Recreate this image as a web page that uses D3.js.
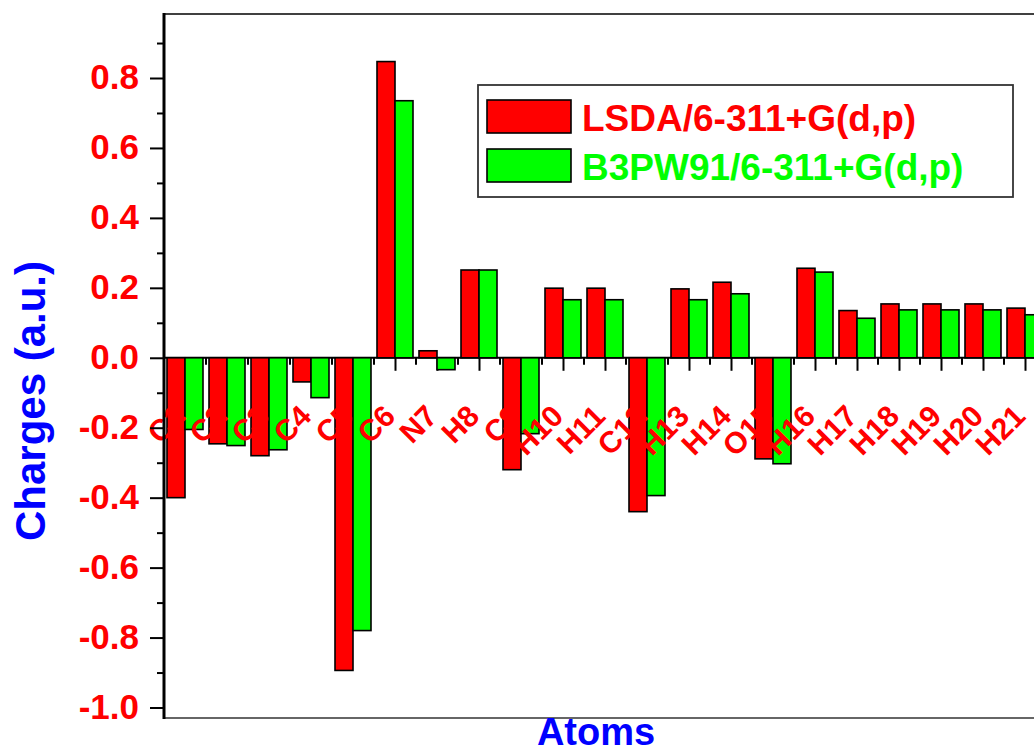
<!DOCTYPE html>
<html>
<head>
<meta charset="utf-8">
<script src="https://cdn.jsdelivr.net/npm/d3@7"></script>
<style>
  html, body { margin: 0; padding: 0; background: #fff; }
  svg { display: block; font-family: "Liberation Sans", Arial, sans-serif; }
</style>
</head>
<body>
<svg id="chart" width="1034" height="751"></svg>
<script>
// Mulliken atomic charges for each atom, two levels of theory
const atoms = ["C1","C2","C3","C4","C5","C6","N7","H8","C9","H10","H11","C12","H13","H14","O15","H16","H17","H18","H19","H20","H21"];
const lsda   = [-0.400,-0.246,-0.280,-0.069,-0.894, 0.847, 0.020, 0.251,-0.320, 0.199, 0.199,-0.440, 0.197, 0.216,-0.289, 0.256, 0.135, 0.154, 0.154, 0.154, 0.142];
const b3pw91 = [-0.205,-0.251,-0.263,-0.114,-0.780, 0.735,-0.034, 0.251,-0.217, 0.166, 0.166,-0.394, 0.166, 0.183,-0.303, 0.245, 0.113, 0.137, 0.137, 0.137, 0.123];
const seriesNames = ["LSDA/6-311+G(d,p)", "B3PW91/6-311+G(d,p)"];
const seriesColors = ["#ff0000", "#00ff00"];
const yMajorTicks = [-1.0,-0.8,-0.6,-0.4,-0.2,0.0,0.2,0.4,0.6,0.8];
const yMinorTicks = [-0.9,-0.7,-0.5,-0.3,-0.1,0.1,0.3,0.5,0.7,0.9];

const svg = d3.select("#chart");
const plot = { left: 164, top: 14, bottom: 718, right: 1028 };
const step = 42;

const x = d3.scalePoint()
  .domain(atoms)
  .range([plot.left, plot.left + step * atoms.length])
  .padding(0.5);
const barW = x.step() * 3 / 7;
const xSeries = d3.scaleBand().domain([0, 1]).range([-barW, barW]).padding(0);

const y = d3.scaleLinear().domain([-1.03, 0.983]).range([plot.bottom, plot.top]);

const rows = atoms.map((a, i) => ({ atom: a, values: [lsda[i], b3pw91[i]] }));

// zero line with atom ticks hanging below it
const zeroY = y(0);
svg.append("line")
  .attr("x1", plot.left).attr("x2", 1034)
  .attr("y1", zeroY).attr("y2", zeroY)
  .attr("stroke", "#000").attr("stroke-width", 2);

const xAxis = svg.append("g")
  .attr("transform", `translate(0,${zeroY})`)
  .call(d3.axisBottom(x).tickSize(13).tickSizeOuter(0).tickFormat(""));
xAxis.select(".domain").remove();
xAxis.selectAll(".tick line").attr("stroke", "#000").attr("stroke-width", 2);

svg.append("g").selectAll("line")
  .data(atoms)
  .join("line")
  .attr("x1", d => x(d) + x.step() / 2).attr("x2", d => x(d) + x.step() / 2)
  .attr("y1", zeroY).attr("y2", zeroY + 7)
  .attr("stroke", "#000").attr("stroke-width", 2);

// grouped bars
const groups = svg.append("g").selectAll("g")
  .data(rows)
  .join("g")
  .attr("transform", d => `translate(${x(d.atom)},0)`);

groups.selectAll("rect")
  .data(d => d.values.map((v, k) => ({ v, k })))
  .join("rect")
  .attr("x", d => xSeries(d.k))
  .attr("width", xSeries.bandwidth())
  .attr("y", d => Math.min(y(d.v), y(0)))
  .attr("height", d => Math.abs(y(d.v) - y(0)))
  .attr("fill", d => seriesColors[d.k])
  .attr("stroke", "#000")
  .attr("stroke-width", 1.6);

// rotated atom labels
svg.append("g").selectAll("text")
  .data(atoms)
  .join("text")
  .attr("transform", d => `translate(${x(d) + 2},418) rotate(-45)`)
  .attr("text-anchor", "end")
  .attr("fill", "#ff0000")
  .attr("font-size", 30)
  .attr("font-weight", "bold")
  .text(d => d);

// left axis
const fmt = d => d3.format(".1f")(d).replace("\u2212", "-");
const yAxis = svg.append("g")
  .attr("transform", `translate(${plot.left},0)`)
  .call(d3.axisLeft(y).tickValues(yMajorTicks).tickSize(14).tickSizeOuter(0).tickPadding(11).tickFormat(fmt));
yAxis.select(".domain").remove();
yAxis.selectAll(".tick line").attr("stroke", "#000").attr("stroke-width", 2);
yAxis.selectAll(".tick text")
  .attr("fill", "#ff0000")
  .attr("font-size", 35)
  .attr("font-weight", "bold")
  .attr("font-family", "'Liberation Sans', Arial, sans-serif")
  .attr("dy", "0.30em");

const yMinor = svg.append("g")
  .attr("transform", `translate(${plot.left},0)`)
  .call(d3.axisLeft(y).tickValues(yMinorTicks).tickSize(7).tickFormat(""));
yMinor.select(".domain").remove();
yMinor.selectAll(".tick line").attr("stroke", "#000").attr("stroke-width", 2);

// frame
svg.append("line")
  .attr("x1", plot.left).attr("x2", 1034).attr("y1", plot.top).attr("y2", plot.top)
  .attr("stroke", "#000").attr("stroke-width", 1.5);
svg.append("line")
  .attr("x1", plot.left).attr("x2", 1034).attr("y1", plot.bottom).attr("y2", plot.bottom)
  .attr("stroke", "#333").attr("stroke-width", 1.5);
svg.append("line")
  .attr("x1", plot.left).attr("x2", plot.left).attr("y1", plot.top - 1).attr("y2", plot.bottom + 1)
  .attr("stroke", "#000").attr("stroke-width", 3);

// axis titles
svg.append("text")
  .attr("x", (plot.left + plot.right) / 2).attr("y", 745)
  .attr("text-anchor", "middle")
  .attr("fill", "#0000ff").attr("font-size", 38).attr("font-weight", "bold")
  .text("Atoms");

svg.append("text")
  .attr("transform", "translate(45,401) rotate(-90)")
  .attr("text-anchor", "middle")
  .attr("fill", "#0000ff").attr("font-size", 42).attr("font-weight", "bold")
  .text("Charges (a.u.)");

// legend
const legend = svg.append("g");
legend.append("rect")
  .attr("x", 478).attr("y", 85).attr("width", 535).attr("height", 112)
  .attr("fill", "#fff").attr("stroke", "#333").attr("stroke-width", 1.8);
const items = legend.selectAll("g.item")
  .data(seriesNames)
  .join("g")
  .attr("class", "item")
  .attr("transform", (d, i) => `translate(0,${i * 49})`);
items.append("rect")
  .attr("x", 487).attr("y", 100).attr("width", 84).attr("height", 33)
  .attr("fill", (d, i) => seriesColors[i])
  .attr("stroke", "#000").attr("stroke-width", 1.6);
items.append("text")
  .attr("x", 582).attr("y", 131)
  .attr("fill", (d, i) => seriesColors[i])
  .attr("font-size", 37).attr("font-weight", "bold")
  .text(d => d);
</script>
</body>
</html>
